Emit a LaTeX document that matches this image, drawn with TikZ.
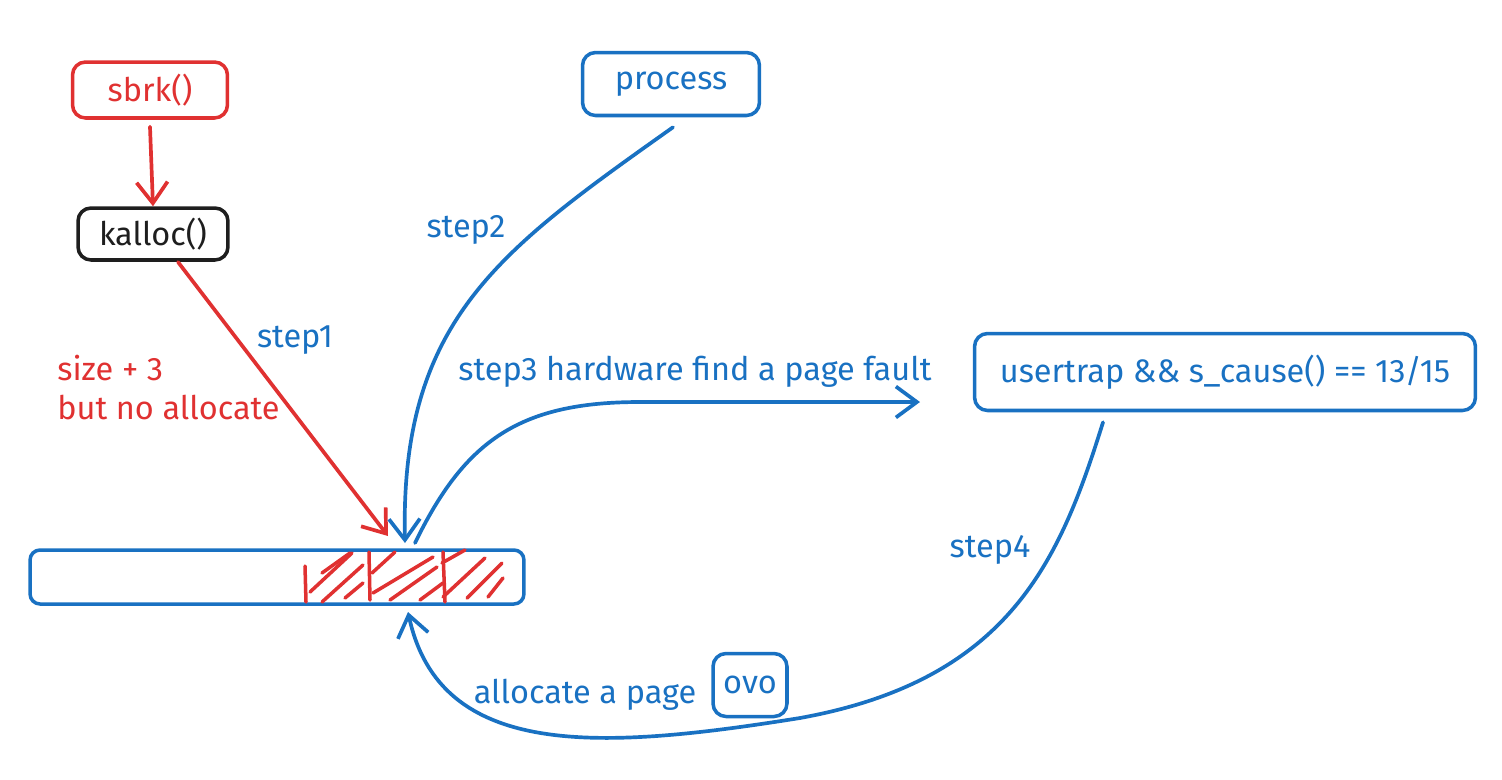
\documentclass[tikz,border=0pt]{standalone}
\usepackage{xcolor}
\usepackage{fontspec}
\setmainfont{Fira Sans}
\usetikzlibrary{arrows.meta}
\definecolor{XBlue}{HTML}{1971C2}
\definecolor{XRed}{HTML}{E03131}
\definecolor{XInk}{HTML}{1E1E1E}
\begin{document}
\begin{tikzpicture}[x=0.02cm,y=-0.02cm,
  box/.style={draw,line width=2pt,rounded corners=0.26cm,inner sep=0pt,font=\fontsize{18.5}{22}\selectfont},
  lbl/.style={font=\fontsize{18.5}{22}\selectfont,inner sep=0pt},
  wire/.style={line width=2.1pt,line cap=round},
  hatch/.style={XRed,line width=2pt,line cap=round},
  barb/.style={-{Straight Barb[length=0.42cm,width=0.62cm,line width=2.1pt]}}]
\path[use as bounding box] (0,0) rectangle (1502,779);
\node[box,XRed,text=XRed,minimum width=3.1cm,minimum height=1.12cm] (sbrk) at (150,90) {sbrk()};
\node[box,XInk,text=XInk,minimum width=3.0cm,minimum height=1.04cm] (kalloc) at (153,234) {kalloc()};
\node[box,XBlue,text=XBlue,minimum width=3.54cm,minimum height=1.26cm] (process) at (671,84) {process};
\node[box,XBlue,text=XBlue,minimum width=10.02cm,minimum height=1.54cm] (trap) at (1225,372) {usertrap \&\& s\_cause() == 13/15};
\node[box,XBlue,text=XBlue,minimum width=1.48cm,minimum height=1.26cm] (ovo) at (750,685) {ovo};
\node[box,XBlue,rounded corners=0.2cm,minimum width=9.88cm,minimum height=1.08cm] (mem) at (277,577) {};
\draw[hatch] (305,566) -- (306,602);
\draw[hatch] (369,552) -- (370,600);
\draw[hatch] (443,552) -- (445,602);
\draw[hatch] (310,592) -- (352,553);
\draw[hatch] (322,573) -- (350,553);
\draw[hatch] (322,602) -- (363,565);
\draw[hatch] (345,598) -- (363,583);
\draw[hatch] (372,573) -- (395,552);
\draw[hatch] (373,593) -- (433,557);
\draw[hatch] (390,600) -- (437,567);
\draw[hatch] (420,600) -- (443,583);
\draw[hatch] (442,563) -- (465,550);
\draw[hatch] (443,597) -- (485,558);
\draw[hatch] (467,598) -- (502,563);
\draw[hatch] (488,597) -- (503,578);
\coordinate (hit1) at (388,536);
\coordinate (hit2) at (405,543);
\coordinate (out3) at (415,543);
\coordinate (end3) at (920,402);
\coordinate (back4) at (408,612);
\draw[wire,barb,XRed] ([yshift=-0.14cm]sbrk.south) -- (kalloc.north);
\draw[wire,barb,XRed] (178,262) -- (hit1);
\draw[wire,barb,XBlue] ([xshift=0.04cm,yshift=-0.2cm]process.south) .. controls (500,250) and (400,320) .. (hit2);
\draw[wire,barb,XBlue] (out3) .. controls (465,440) and (520,402) .. (640,402) -- (end3);
\draw[wire,barb,XBlue] ([xshift=-2.44cm,yshift=-0.2cm]trap.south) .. controls (1060,560) and (1010,680) .. (800,718) .. controls (600,750) and (440,760) .. (back4);
\node[lbl,XBlue] (s1) at (295,340) {step1};
\node[lbl,XRed,anchor=north west,align=left] (size) at (57,355) {size + 3\\but no allocate};
\node[lbl,XBlue] (s2) at (466,230) {step2};
\node[lbl,XBlue] (s3) at (695,372) {step3 hardware find a page fault};
\node[lbl,XBlue] (s4) at (990,550) {step4};
\node[lbl,XBlue] (alloc) at (585,695) {allocate a page};
\end{tikzpicture}
\end{document}
